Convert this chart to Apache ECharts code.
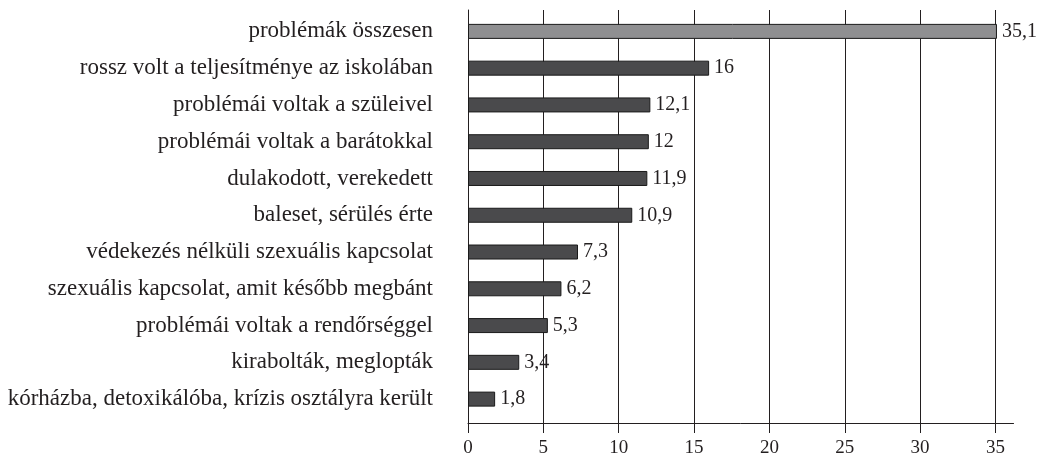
<!DOCTYPE html>
<html>
<head>
<meta charset="utf-8">
<script src="https://cdn.jsdelivr.net/npm/echarts@6/dist/echarts.min.js"></script>
<style>
  html, body { margin: 0; padding: 0; background: #fff; }
  #chart { width: 1048px; height: 460px; }
</style>
</head>
<body>
<div id="chart"></div>
<script>
// categories, top to bottom
const categories = [
  'problémák összesen',
  'rossz volt a teljesítménye az iskolában',
  'problémái voltak a szüleivel',
  'problémái voltak a barátokkal',
  'dulakodott, verekedett',
  'baleset, sérülés érte',
  'védekezés nélküli szexuális kapcsolat',
  'szexuális kapcsolat, amit később megbánt',
  'problémái voltak a rendőrséggel',
  'kirabolták, meglopták',
  'kórházba, detoxikálóba, krízis osztályra került'
]
const values = [35.1, 16, 12.1, 12, 11.9, 10.9, 7.3, 6.2, 5.3, 3.4, 1.8]
const xTicks = [0, 5, 10, 15, 20, 25, 30, 35]

const FONT = 'Liberation Serif'
const TEXT = '#231f20'
const LEFT = 468
const PX_PER_UNIT = 15.07
const AXIS_END = 36.2

const chart = echarts.init(document.getElementById('chart'))

const fmt = v => String(v).replace('.', ',')

const option = {
  animation: false,
  grid: [
    // bars
    { left: LEFT, top: 13, width: AXIS_END * PX_PER_UNIT, height: 404.5 },
    // frame: axis lines
    { left: LEFT, top: 10, width: AXIS_END * PX_PER_UNIT, height: 413 },
    // grid lines, ticks and labels
    { left: LEFT, top: 10, width: xTicks[xTicks.length - 1] * PX_PER_UNIT, height: 413 }
  ],
  xAxis: [
    { gridIndex: 0, type: 'value', min: 0, max: AXIS_END, show: false },
    {
      gridIndex: 1, type: 'value', min: 0, max: AXIS_END,
      axisLine: { show: true, lineStyle: { color: '#231f20', width: 1 } },
      axisTick: { show: false }, axisLabel: { show: false }, splitLine: { show: false }
    },
    {
      gridIndex: 2, type: 'value', min: xTicks[0], max: xTicks[xTicks.length - 1], interval: 5,
      axisLine: { show: false },
      axisTick: { show: true, length: 10, lineStyle: { color: '#231f20' } },
      axisLabel: { color: TEXT, fontFamily: FONT, fontSize: 19, margin: 16 },
      splitLine: { show: true, lineStyle: { color: '#231f20', width: 1 } }
    }
  ],
  yAxis: [
    {
      gridIndex: 0, type: 'category', data: categories, inverse: true,
      axisLine: { show: false }, axisTick: { show: false },
      axisLabel: { color: TEXT, fontFamily: FONT, fontSize: 23, margin: 35 }
    },
    {
      gridIndex: 1, type: 'value', min: 0, max: 1,
      axisLine: { show: true, lineStyle: { color: '#231f20', width: 1 } },
      axisTick: { show: false }, axisLabel: { show: false }, splitLine: { show: false }
    },
    { gridIndex: 2, type: 'value', min: 0, max: 1, show: false }
  ],
  series: [{
    type: 'bar',
    xAxisIndex: 0,
    yAxisIndex: 0,
    barWidth: 15,
    data: values.map((v, i) => ({
      value: v,
      itemStyle: { color: i === 0 ? '#8f8f91' : '#4a4a4c' }
    })),
    itemStyle: { borderColor: '#1a1a1a', borderWidth: 1 },
    label: {
      show: true,
      position: 'right',
      distance: 5,
      color: TEXT,
      fontFamily: FONT,
      fontSize: 20,
      formatter: p => fmt(p.value)
    }
  }]
}

chart.setOption(option)
</script>
</body>
</html>
